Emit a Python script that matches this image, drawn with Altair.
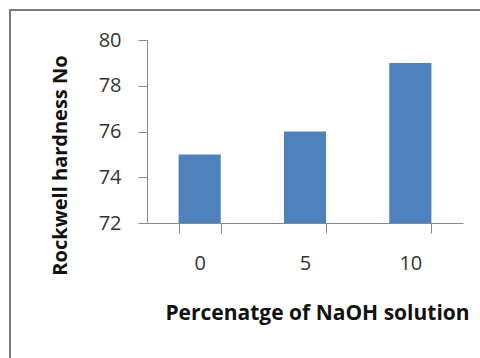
import altair as alt
import pandas as pd

categories = ["0", "5", "10"]
hardness = [75, 76, 79]
y_ticks = [72, 74, 76, 78, 80]

df = pd.DataFrame({"naoh": categories, "hardness": hardness})

FONT = "Open Sans"

bars = alt.Chart(df).mark_bar(color="#4F81BD", clip=True).encode(
    x=alt.X(
        "naoh:N",
        sort=categories,
        scale=alt.Scale(paddingInner=0.6, paddingOuter=0.3),
        axis=alt.Axis(
            title="Percenatge of NaOH solution",
            labelAngle=0,
            tickBand="extent",
            tickSize=10,
            labelPadding=20,
            labelFontSize=20,
            labelFont=FONT,
            labelColor="#333333",
            titleFont=FONT,
            titleFontSize=21,
            titleFontWeight="bold",
            titleColor="#111111",
            titleX=170,
            titleY=90,
            titleAlign="center",
            titleBaseline="middle",
            domainColor="#8a8a8a",
            tickColor="#8a8a8a",
        ),
    ),
    y=alt.Y(
        "hardness:Q",
        scale=alt.Scale(domain=[72, 80], zero=False, nice=False),
        axis=alt.Axis(
            title="Rockwell hardness No",
            values=y_ticks,
            grid=False,
            tickSize=9,
            labelPadding=17,
            labelFontSize=20,
            labelFont=FONT,
            labelColor="#333333",
            titleFont=FONT,
            titleFontSize=20,
            titleFontWeight="bold",
            titleColor="#111111",
            titleAngle=-90,
            titleX=-87,
            titleY=125,
            titleAlign="center",
            titleBaseline="middle",
            domainColor="#8a8a8a",
            tickColor="#8a8a8a",
        ),
    ),
)

frame = alt.Chart(pd.DataFrame({"a": [0]})).mark_rect(
    fill=None, stroke="#7a7a7a", strokeWidth=2, clip=False
).encode(
    x=alt.value(-137), x2=alt.value(600),
    y=alt.value(-30), y2=alt.value(500),
)

chart = alt.layer(frame, bars).properties(
    width=316,
    height=183,
    padding={"left": 147, "top": 40, "right": 17, "bottom": 135},
    autosize=alt.AutoSizeParams(type="none"),
    background="white",
).configure_view(stroke=None)

chart.save("out.html", embed_options={"renderer": "svg", "actions": False})
